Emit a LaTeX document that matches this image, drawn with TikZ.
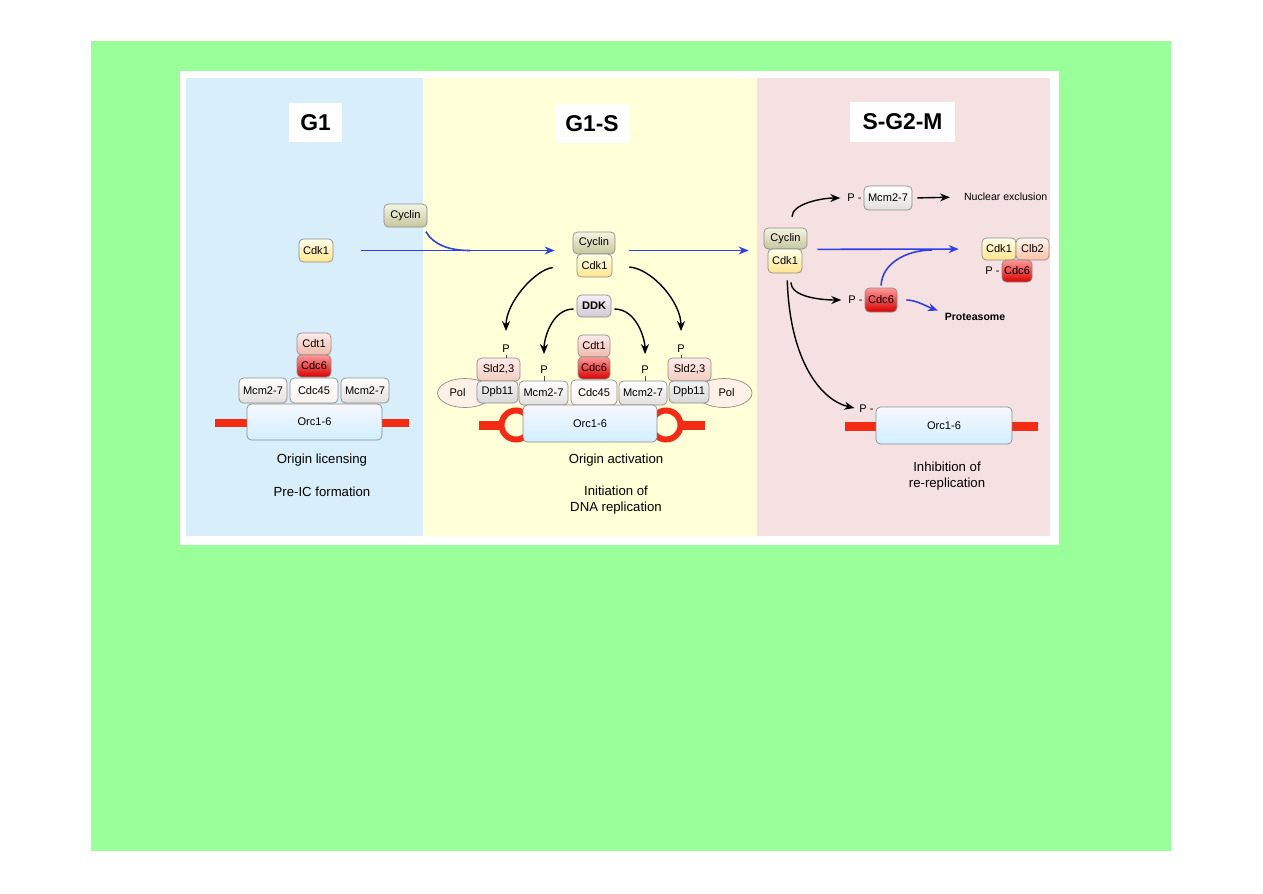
\documentclass[tikz,border=0pt]{standalone}
\usepackage{fontspec}
\setmainfont{Liberation Sans}
\usetikzlibrary{arrows.meta,positioning,shapes.geometric}
\definecolor{Lime}{HTML}{99FF99}
\definecolor{PanA}{HTML}{D8EEFA}
\definecolor{PanB}{HTML}{FFFFD8}
\definecolor{PanC}{HTML}{F5E1E1}
\definecolor{Dna}{HTML}{F52A12}
\definecolor{Arr}{HTML}{2E3FE8}
\definecolor{Edge}{HTML}{8C8C8C}

\begin{document}
\begin{tikzpicture}[x=0.02cm,y=0.02cm,
    prot/.style={draw=Edge,rounded corners=2.5pt,inner sep=0pt,minimum height=0.46cm,
      font=\fontsize{6.3}{7}\selectfont},
    cyc/.style={top color=cyan!3!olive!8,bottom color=olive!35!gray!45},
    cdk/.style={top color=yellow!8,bottom color=yellow!55!orange!45},
    cdt/.style={top color=red!8,bottom color=red!35!brown!40},
    cdc/.style={top color=red!40,bottom color=red!85!black},
    mcm/.style={top color=white,bottom color=brown!15!gray!25},
    cdcf/.style={top color=white,bottom color=orange!6!brown!10},
    orc/.style={top color=blue!3,bottom color=blue!35!cyan!18},
    ddk/.style={top color=violet!6,bottom color=violet!20!gray!35},
    sld/.style={top color=red!8,bottom color=red!30!brown!30},
    dpb/.style={top color=gray!10,bottom color=gray!30},
    clb/.style={top color=orange!8,bottom color=red!40!orange!35},
    pol/.style={ellipse,draw=Edge,fill=red!8!orange!10,inner sep=0pt,
      font=\fontsize{6.3}{7}\selectfont},
    plab/.style={inner sep=1pt,font=\fontsize{6.3}{7}\selectfont},
    phase/.style={fill=white,inner sep=0pt,font=\bfseries\fontsize{13}{15}\selectfont},
    capt/.style={align=center,font=\fontsize{7.5}{9}\selectfont},
    dna/.style={Dna,line width=0.18cm},
    blk/.style={black,line width=0.8pt,-{Stealth[length=2mm,width=1.6mm]}},
    bluearr/.style={Arr,line width=0.9pt,-{Stealth[length=2mm,width=1.6mm]}},
    blueln/.style={Arr,line width=0.9pt}
  ]
  \useasboundingbox (0,0) rectangle (1263,-893);
  \fill[white] (0,0) rectangle (1263,-893);
  \fill[Lime] (91,-41) rectangle (1171,-851);
  \fill[white] (180,-71) rectangle (1059,-545);
  \fill[PanA] (186,-78) rectangle (423,-536);
  \fill[PanB] (423,-78) rectangle (757,-536);
  \fill[PanC] (757,-78) rectangle (1050,-536);

  % phase headings
  \node[phase,minimum width=1.06cm,minimum height=0.78cm] (hA) at (315.5,-122.5) {G1};
  \node[phase,minimum width=1.48cm,minimum height=0.78cm] (hB) at (592,-123.5) {G1-S};
  \node[phase,minimum width=2.1cm,minimum height=0.8cm] (hC) at (902.5,-122) {S-G2-M};

  % G1: origin licensing
  \draw[line width=0.16cm,Dna] (215,-423) -- (409,-423);
  \node[prot,cyc,minimum width=0.86cm] (cyca) at (405.5,-215.5) {Cyclin};
  \node[prot,cdk,minimum width=0.68cm] (cdka) at (316,-250.5) {Cdk1};
  \node[prot,cdt,minimum width=0.68cm,minimum height=0.44cm] (cdta) at (314,-344) {Cdt1};
  \node[prot,cdc,minimum width=0.68cm,minimum height=0.44cm] (cdca) at (314,-366) {Cdc6};
  \node[prot,mcm,minimum width=0.96cm,minimum height=0.5cm] (mcmaL) at (263,-390.5) {Mcm2-7};
  \node[prot,cdcf,minimum width=0.96cm,minimum height=0.5cm] (cdfa) at (314,-390.5) {Cdc45};
  \node[prot,mcm,minimum width=0.96cm,minimum height=0.5cm] (mcmaR) at (365,-390.5) {Mcm2-7};
  \node[prot,orc,minimum width=2.7cm,minimum height=0.72cm] (orca) at (314.5,-422) {Orc1-6};
  \node[capt] (capA1) at (322,-460) {Origin licensing};
  \node[capt] (capA2) at (322,-492) {Pre-IC formation};

  % G1-S: origin activation
  \draw[dna] (479,-425) -- (501,-425);
  \draw[dna] (681,-425) -- (705,-425);
  \draw[Dna,line width=0.12cm] (516,-425) circle[radius=0.29cm];
  \draw[Dna,line width=0.12cm] (666,-425) circle[radius=0.29cm];
  \node[prot,cyc,minimum width=0.84cm,minimum height=0.44cm] (cycb) at (594,-243) {Cyclin};
  \node[prot,cdk,minimum width=0.7cm] (cdkb) at (594.5,-265.5) {Cdk1};
  \node[prot,ddk,minimum width=0.68cm,minimum height=0.44cm,font=\bfseries\fontsize{6.3}{7}\selectfont] (ddk) at (594,-306) {DDK};
  \node[prot,cdt,minimum width=0.64cm,minimum height=0.44cm] (cdtb) at (594,-346) {Cdt1};
  \node[prot,cdc,minimum width=0.64cm,minimum height=0.44cm] (cdcb) at (594,-368) {Cdc6};
  \node[pol,minimum width=1.1cm,minimum height=0.58cm] (polL) at (465,-393) {\hspace*{-0.3cm}Pol};
  \node[pol,minimum width=1.12cm,minimum height=0.58cm] (polR) at (724,-393) {\hspace*{0.1cm}Pol};
  \node[prot,sld,minimum width=0.86cm] (sldL) at (498.5,-369.5) {Sld2,3};
  \node[prot,dpb,minimum width=0.82cm,minimum height=0.44cm] (dpbL) at (497.5,-392) {Dpb11};
  \node[prot,mcm,minimum width=0.98cm,minimum height=0.48cm] (mcmbL) at (543.5,-393) {Mcm2-7};
  \node[prot,cdcf,minimum width=0.92cm,minimum height=0.5cm] (cdfb) at (594,-392.5) {Cdc45};
  \node[prot,mcm,minimum width=0.96cm,minimum height=0.48cm] (mcmbR) at (643,-393) {Mcm2-7};
  \node[prot,sld,minimum width=0.86cm] (sldR) at (689.5,-369.5) {Sld2,3};
  \node[prot,dpb,minimum width=0.8cm,minimum height=0.44cm] (dpbR) at (689,-392) {Dpb11};
  \node[prot,orc,minimum width=2.68cm,minimum height=0.74cm] (orcb) at (590,-423.5) {Orc1-6};
  \node[plab] (pSL) at (506,-349) {P};
  \node[plab] (pML) at (544,-370) {P};
  \node[plab] (pMR) at (645,-370) {P};
  \node[plab] (pSR) at (681,-349) {P};
  \foreach \p/\b in {pSL/sldL,pML/mcmbL,pMR/mcmbR,pSR/sldR}
    \draw[black!70,line width=0.3pt] (\p.south) -- (\p.south |- \b.north);
  \node[capt] (capB1) at (616,-460) {Origin activation};
  \node[capt] (capB2) at (616,-500) {Initiation of\\DNA replication};

  % S-G2-M: inhibition of re-replication
  \draw[dna] (845,-426.5) -- (1038,-426.5);
  \node[prot,cyc,minimum width=0.86cm,minimum height=0.42cm] (cycc) at (785.5,-238.5) {Cyclin};
  \node[prot,cdk,minimum width=0.68cm,minimum height=0.48cm] (cdkc) at (785,-261) {Cdk1};
  \node[prot,mcm,minimum width=0.96cm,minimum height=0.48cm] (mcmc) at (888,-198) {Mcm2-7};
  \node[plab,left=0pt of mcmc] (pM) {P -};
  \node[plab,anchor=west,font=\fontsize{6}{7}\selectfont] (nucl) at (962,-197) {Nuclear exclusion};
  \node[prot,cdk,minimum width=0.68cm,minimum height=0.44cm] (cdkd) at (999,-249) {Cdk1};
  \node[prot,clb,minimum width=0.66cm,minimum height=0.44cm] (clb) at (1032.5,-249) {Clb2};
  \node[prot,cdc,minimum width=0.6cm,minimum height=0.44cm] (cdcd) at (1017,-271) {Cdc6};
  \node[plab,left=0pt of cdcd] (pD) {P -};
  \node[prot,cdc,minimum width=0.64cm,minimum height=0.48cm] (pcdc) at (881,-300) {Cdc6};
  \node[plab,left=0pt of pcdc] (pC) {P -};
  \node[inner sep=0pt,font=\bfseries\fontsize{6}{7}\selectfont] (prots) at (975,-317) {Proteasome};
  \node[prot,orc,minimum width=2.72cm,minimum height=0.74cm] (orcc) at (944,-425.5) {Orc1-6};
  \node[plab,anchor=east] (pO) at ([yshift=-0.04cm]orcc.north west) {P -};
  \node[capt] (capC) at (947,-476) {Inhibition of\\re-replication};

  % blue route of Cyclin-Cdk1
  \draw[blueln,shorten <=0.1cm] ([xshift=-0.08cm]cyca.south east) to[out=-60,in=180] (470,-250.5) coordinate (mrgA);
  \draw[bluearr,shorten <=0.56cm,shorten >=0.36cm] (cdka.east) -- (cdka.east -| cycb.west);
  \draw[bluearr,shorten <=0.28cm,shorten >=0.3cm] (cycb.east |- cdka.east) -- (cycc.west |- cdka.east);
  \draw[bluearr,shorten <=0.2cm,shorten >=0.46cm] (cycc.south east) -- (cdkd.west);
  \coordinate (mrgB) at (932,-250);
  \draw[blueln,shorten <=0.04cm] (pcdc.north) to[out=88,in=180] (mrgB);
  \draw[bluearr,shorten <=0.18cm,shorten >=0.14cm] (pcdc.east) to[out=0,in=160] (prots.north west);

  % black phosphorylation arrows
  \draw[blk,shorten <=0.48cm,shorten >=0.24cm] (cdkb.west) to[out=185,in=90] (pSL.north);
  \draw[blk,shorten <=0.34cm,shorten >=0.24cm] (cdkb.east) to[out=-5,in=90] (pSR.north);
  \draw[blk,shorten <=0.06cm,shorten >=0.2cm] ([yshift=-0.06cm]ddk.west) to[out=180,in=90] (pML.north);
  \draw[blk,shorten <=0.06cm,shorten >=0.2cm] ([yshift=-0.06cm]ddk.east) to[out=0,in=90] (pMR.north);
  \draw[blk,shorten <=0.22cm,shorten >=0.1cm] ([xshift=0.13cm]cycc.north) to[out=90,in=180] (pM.west);
  \draw[blk,shorten <=0.1cm,shorten >=0.24cm] (mcmc.east) -- (nucl.west);
  \draw[blk,shorten <=0.18cm,shorten >=0.1cm] ([xshift=0.12cm]cdkc.south) to[out=-90,in=180] (pC.west);
  \draw[blk,shorten <=0.14cm,shorten >=0.06cm] ([xshift=0.04cm]cdkc.south)
    .. controls +(0.06cm,-1.8cm) and +(-0.7cm,0.16cm) .. (pO.west);
\end{tikzpicture}
\end{document}
